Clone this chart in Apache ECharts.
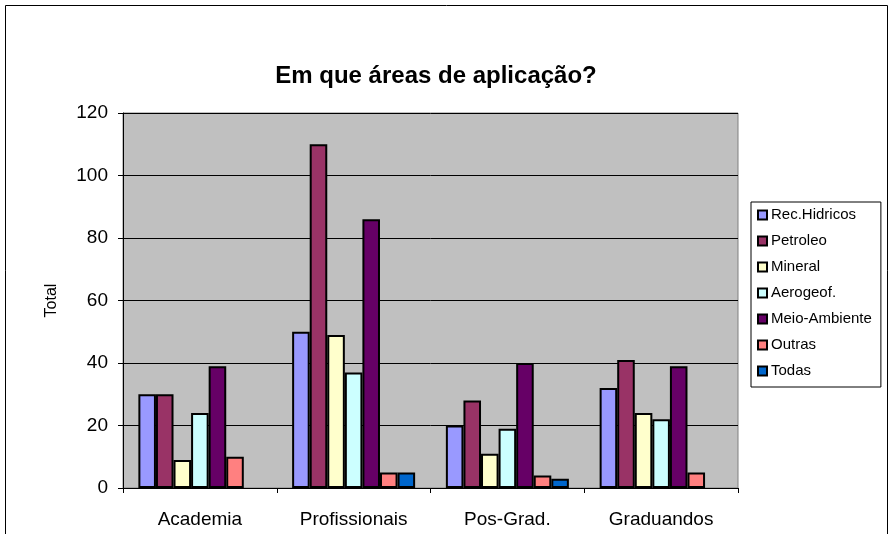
<!DOCTYPE html>
<html>
<head>
<meta charset="utf-8">
<script src="https://cdn.jsdelivr.net/npm/echarts@6/dist/echarts.min.js"></script>
<style>html,body{margin:0;padding:0;background:#fff}#c{width:893px;height:534px}</style>
</head>
<body>
<div id="c"></div>
<script>
const categories = ['Academia', 'Profissionais', 'Pos-Grad.', 'Graduandos'];
const recHidricos = [30, 50, 20, 32];
const petroleo = [30, 110, 28, 41];
const mineral = [9, 49, 11, 24];
const aerogeof = [24, 37, 19, 22];
const meioAmbiente = [39, 86, 40, 39];
const outras = [10, 5, 4, 5];
const todas = [0, 5, 3, 0];
const seriesNames = ['Rec.Hidricos', 'Petroleo', 'Mineral', 'Aerogeof.', 'Meio-Ambiente', 'Outras', 'Todas'];
const seriesData = [recHidricos, petroleo, mineral, aerogeof, meioAmbiente, outras, todas];
const colors = ['#9999FF', '#993366', '#FFFFCC', '#CCFFFF', '#660066', '#FF8080', '#0066CC'];
const yTicks = { min: 0, max: 120, interval: 20 };

const chart = echarts.init(document.getElementById('c'), null, { renderer: 'canvas' });
const font = 'Liberation Sans, Arial, sans-serif';
chart.setOption({
  animation: false,
  backgroundColor: '#ffffff',
  textStyle: { fontFamily: font },
  title: {
    text: 'Em que áreas de aplicação?',
    left: 431, top: 59, textAlign: 'center',
    textStyle: { fontFamily: font, fontSize: 24, fontWeight: 'bold', color: '#000' }
  },
  graphic: [{
    type: 'rect', silent: true, z: -1,
    shape: { x: 5.5, y: 5.5, width: 882, height: 540 },
    style: { fill: 'none', stroke: '#000', lineWidth: 1 }
  }],
  legend: {
    orient: 'vertical', left: 751, top: 202,
    padding: [5, 9, 8, 6],
    itemWidth: 9, itemHeight: 9, itemGap: 10,
    borderColor: '#000', borderWidth: 1, backgroundColor: '#fff',
    icon: 'rect',
    textStyle: { fontFamily: font, fontSize: 15, color: '#000', lineHeight: 16, padding: [0, 0, 0, -1] },
    data: seriesNames
  },
  grid: {
    left: 123, right: 155, top: 113, bottom: 46,
    show: true, backgroundColor: '#C0C0C0', borderColor: '#808080', borderWidth: 1
  },
  xAxis: {
    type: 'category', data: categories,
    axisLine: { lineStyle: { color: '#000', width: 1 } },
    axisTick: { show: true, length: 5, lineStyle: { color: '#000' } },
    axisLabel: { fontFamily: font, fontSize: 19, color: '#000', margin: 22 }
  },
  yAxis: {
    type: 'value', min: yTicks.min, max: yTicks.max, interval: yTicks.interval,
    name: 'Total', nameLocation: 'middle', nameGap: 63, nameRotate: 90,
    nameTextStyle: { fontFamily: font, fontSize: 16, color: '#000' },
    axisLine: { show: true, lineStyle: { color: '#000', width: 1 } },
    axisTick: { show: true, length: 5, lineStyle: { color: '#000' } },
    axisLabel: { fontFamily: font, fontSize: 19, color: '#000', margin: 15 },
    splitLine: { show: true, lineStyle: { color: '#000', width: 1 } }
  },
  series: seriesData.map((d, i) => ({
    name: seriesNames[i], type: 'bar',
    data: d.map(v => (v === 0 ? null : v)),
    barGap: '0%', barCategoryGap: '20%',
    itemStyle: { color: colors[i], borderColor: '#000', borderWidth: 2 }
  }))
});
</script>
</body>
</html>
